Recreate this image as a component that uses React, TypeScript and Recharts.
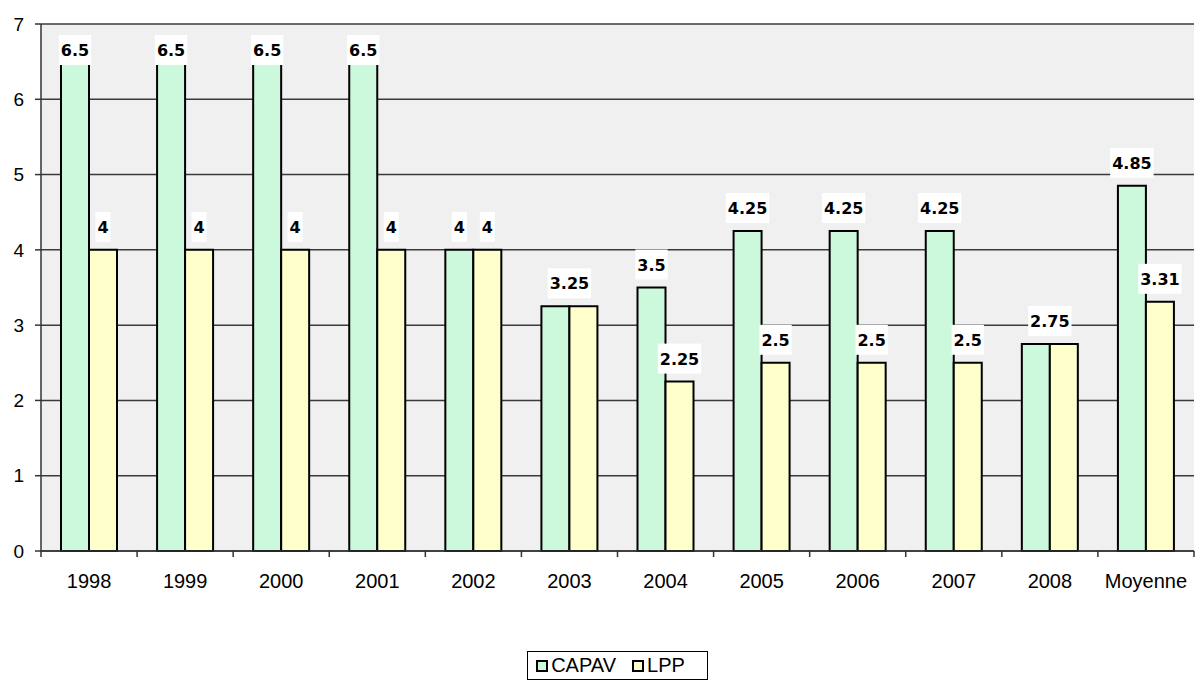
import React from 'react';
import { BarChart, Bar, XAxis, YAxis, CartesianGrid, Legend, LabelList } from 'recharts';

const categories = ['1998', '1999', '2000', '2001', '2002', '2003', '2004', '2005', '2006', '2007', '2008', 'Moyenne'];
const capav = [6.5, 6.5, 6.5, 6.5, 4, 3.25, 3.5, 4.25, 4.25, 4.25, 2.75, 4.85];
const lpp = [4, 4, 4, 4, 4, 3.25, 2.25, 2.5, 2.5, 2.5, 2.75, 3.31];
const yTicks = [0, 1, 2, 3, 4, 5, 6, 7];

const CAPAV_COLOR = '#CCF8DC';
const LPP_COLOR = '#FFFFCC';

const data = categories.map((name, i) => ({ name, CAPAV: capav[i], LPP: lpp[i] }));

const W = 1195;
const H = 682;
const PLOT_LEFT = 41;
const PLOT_RIGHT = 1194;
const BAND = (PLOT_RIGHT - PLOT_LEFT) / categories.length;
const AXIS_FONT = '"Liberation Sans", Arial, sans-serif';
const LABEL_FONT = '"DejaVu Sans", Verdana, sans-serif';

// rough width of the bold label text
const textWidth = (s: string) => {
  let w = 0;
  for (const ch of s) w += ch === '.' ? 6.1 : 11.1;
  return w;
};

const makeLabel = (series: 'CAPAV' | 'LPP') => (props: any) => {
  const { x, y, width, value, index } = props;
  const other = series === 'CAPAV' ? lpp[index] : capav[index];
  const label = String(value);
  const tw = textWidth(label);
  // equal pair with wide labels: Excel shows a single label over both bars
  const merged = other === value && tw > width;
  if (series === 'LPP' && merged) return null;
  const cx = series === 'CAPAV' && merged ? x + width : x + width / 2;
  const boxH = 30;
  let top = y - 8 - boxH;
  if (top < 35) top = 35;
  return (
    <g>
      <rect x={cx - tw / 2 - 2} y={top} width={tw + 4} height={boxH} fill="#fff" />
      <text
        x={cx}
        y={top + 21}
        textAnchor="middle"
        fontFamily={LABEL_FONT}
        fontWeight="bold"
        fontSize={16}
        fill="#000"
      >
        {label}
      </text>
    </g>
  );
};

const XTick = (props: any) => {
  const { x, y, payload, index } = props;
  const axisY = y - 8;
  return (
    <g>
      <line x1={x - BAND / 2} x2={x - BAND / 2} y1={axisY} y2={axisY + 6} stroke="#333" strokeWidth={1.5} />
      {index === categories.length - 1 && (
        <line x1={x + BAND / 2} x2={x + BAND / 2} y1={axisY} y2={axisY + 6} stroke="#333" strokeWidth={1.5} />
      )}
      <text x={x} y={axisY + 37} textAnchor="middle" fontFamily={AXIS_FONT} fontSize={20} fill="#000">
        {payload.value}
      </text>
    </g>
  );
};

const renderLegend = () => (
  <div style={{ display: 'flex', justifyContent: 'center' }}>
    <div
      style={{
        display: 'flex',
        alignItems: 'center',
        border: '1px solid #000',
        padding: '3px 22px 3px 8px',
        fontFamily: AXIS_FONT,
        fontSize: 20,
        color: '#000',
        lineHeight: '21px',
        background: '#fff',
      }}
    >
      {[
        { name: 'CAPAV', color: CAPAV_COLOR },
        { name: 'LPP', color: LPP_COLOR },
      ].map((it, i) => (
        <span key={it.name} style={{ display: 'flex', alignItems: 'center', marginLeft: i ? 16 : 0 }}>
          <span
            style={{
              display: 'inline-block',
              width: 8,
              height: 8,
              border: '2px solid #000',
              background: it.color,
              marginRight: 3,
            }}
          />
          {it.name}
        </span>
      ))}
    </div>
  </div>
);

export default function App() {
  return (
    <div style={{ position: 'absolute', left: 0, top: 0, width: W, height: H, background: '#fff' }}>
      <BarChart
        width={W}
        height={H}
        data={data}
        margin={{ top: 24, right: W - PLOT_RIGHT, bottom: 91, left: 0 }}
        barCategoryGap={20}
        barGap={0}
      >
        <CartesianGrid vertical={false} fill="#F0F0F0" stroke="#3a3a3a" strokeWidth={1.5} />
        <XAxis
          dataKey="name"
          height={40}
          tickLine={false}
          tick={<XTick />}
          interval={0}
          axisLine={{ stroke: '#333', strokeWidth: 1.5 }}
        />
        <YAxis
          width={PLOT_LEFT}
          domain={[0, 7]}
          ticks={yTicks}
          tickSize={6}
          tickMargin={11}
          interval={0}
          axisLine={{ stroke: '#333', strokeWidth: 1.5 }}
          tickLine={{ stroke: '#333', strokeWidth: 1.5 }}
          tick={{ fontFamily: AXIS_FONT, fontSize: 19, fill: '#000' }}
        />
        <Legend
          layout="horizontal"
          verticalAlign="middle"
          align="center"
          content={renderLegend}
          wrapperStyle={{ top: 651, left: 20, width: W }}
        />
        <Bar dataKey="CAPAV" fill={CAPAV_COLOR} stroke="#000" strokeWidth={2} isAnimationActive={false}>
          <LabelList dataKey="CAPAV" content={makeLabel('CAPAV')} />
        </Bar>
        <Bar dataKey="LPP" fill={LPP_COLOR} stroke="#000" strokeWidth={2} isAnimationActive={false}>
          <LabelList dataKey="LPP" content={makeLabel('LPP')} />
        </Bar>
      </BarChart>
    </div>
  );
}
